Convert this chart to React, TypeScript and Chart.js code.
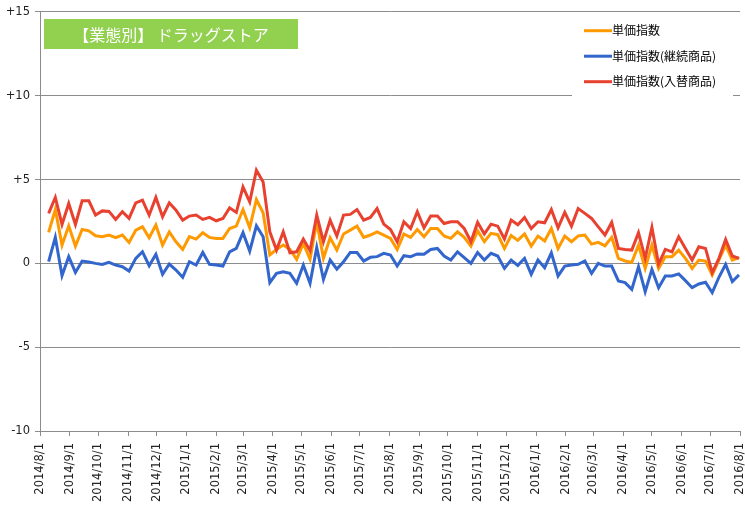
import { useEffect, useRef } from "react";
import { Chart, registerables } from "chart.js";

Chart.register(...registerables);

const titleText = "【業態別】 ドラッグストア";
const seriesNames = ["単価指数", "単価指数(継続商品)", "単価指数(入替商品)"];
const seriesColors = ["#FF9900", "#3366CC", "#E8412F"];

const firstWeek = "2014/8/10";

const monthTicks = [
  "2014/8/1", "2014/9/1", "2014/10/1", "2014/11/1", "2014/12/1",
  "2015/1/1", "2015/2/1", "2015/3/1", "2015/4/1", "2015/5/1", "2015/6/1",
  "2015/7/1", "2015/8/1", "2015/9/1", "2015/10/1", "2015/11/1", "2015/12/1",
  "2016/1/1", "2016/2/1", "2016/3/1", "2016/4/1", "2016/5/1", "2016/6/1",
  "2016/7/1", "2016/8/1",
];

const yTicks = [-10, -5, 0, 5, 10, 15];

const unitPrice = [
  1.85, 3.21, 1.09, 2.24, 1.03, 2.02, 1.94, 1.65, 1.59, 1.69, 1.53, 1.69, 1.25, 1.98, 2.18, 1.53, 2.28,
  1.09, 1.88, 1.29, 0.83, 1.59, 1.45, 1.83, 1.55, 1.49, 1.49, 2.08, 2.22, 3.21, 2.12, 3.81, 3.02, 0.5, 0.83,
  1.09, 0.83, 0.24, 1.19, 0.24, 2.48, 0.3, 1.53, 0.79, 1.75, 1.98, 2.22, 1.55, 1.69, 1.88, 1.69, 1.49, 0.83,
  1.75, 1.55, 2.02, 1.59, 2.08, 2.08, 1.63, 1.49, 1.88, 1.55, 1.03, 1.94, 1.29, 1.79, 1.71, 0.89, 1.66, 1.37,
  1.75, 1.03, 1.63, 1.33, 2.08, 0.89, 1.63, 1.29, 1.63, 1.69, 1.15, 1.25, 1.05, 1.55, 0.3, 0.14, 0.06, 1.09,
  -0.3, 1.09, -0.3, 0.4, 0.4, 0.79, 0.3, -0.3, 0.2, 0.14, -0.69, 0.2, 1.09, 0.2, 0.34,
];

const continuing = [
  0.1, 1.55, -0.73, 0.4, -0.54, 0.14, 0.08, 0, -0.06, 0.06, -0.1, -0.2, -0.46, 0.3, 0.69, -0.14, 0.54,
  -0.65, -0.04, -0.4, -0.83, 0.1, -0.1, 0.65, -0.06, -0.1, -0.16, 0.69, 0.89, 1.83, 0.73, 2.24, 1.59, -1.15, -0.6,
  -0.5, -0.6, -1.19, -0.1, -1.19, 0.95, -0.95, 0.2, -0.34, 0.1, 0.65, 0.65, 0.14, 0.36, 0.4, 0.6, 0.5, -0.16,
  0.46, 0.4, 0.56, 0.54, 0.83, 0.89, 0.44, 0.2, 0.69, 0.34, 0, 0.65, 0.2, 0.6, 0.44, -0.3, 0.2, -0.12,
  0.3, -0.65, 0.2, -0.26, 0.63, -0.75, -0.16, -0.1, -0.06, 0.14, -0.6, 0, -0.16, -0.16, -1.05, -1.15, -1.55, -0.2,
  -1.69, -0.36, -1.45, -0.75, -0.75, -0.63, -1.03, -1.45, -1.23, -1.13, -1.75, -0.83, -0.06, -1.09, -0.69,
];

const replaced = [
  2.98, 3.93, 2.32, 3.57, 2.32, 3.73, 3.73, 2.88, 3.13, 3.1, 2.62, 3.08, 2.68, 3.61, 3.77, 2.88, 3.93,
  2.78, 3.61, 3.17, 2.58, 2.82, 2.88, 2.62, 2.74, 2.54, 2.68, 3.31, 3.04, 4.56, 3.67, 5.56, 4.86, 1.88, 0.79,
  1.88, 0.63, 0.69, 1.45, 0.75, 2.88, 1.29, 2.58, 1.63, 2.88, 2.92, 3.21, 2.58, 2.74, 3.27, 2.34, 2.02, 1.29,
  2.48, 2.08, 3.08, 2.12, 2.82, 2.82, 2.38, 2.48, 2.48, 2.08, 1.29, 2.44, 1.75, 2.34, 2.22, 1.45, 2.58, 2.3,
  2.74, 2.08, 2.48, 2.42, 3.21, 2.12, 3.04, 2.22, 3.27, 2.98, 2.68, 2.18, 1.69, 2.44, 0.89, 0.83, 0.79, 1.83,
  0.3, 2.14, -0.04, 0.83, 0.69, 1.59, 0.89, 0.2, 0.99, 0.89, -0.56, 0.3, 1.43, 0.44, 0.3,
];

const toUTC = (s: string) => {
  const [y, m, d] = s.split("/").map(Number);
  return Date.UTC(y, m - 1, d);
};
const origin = toUTC(monthTicks[0]);
const dayOf = (s: string) => (toUTC(s) - origin) / 86400000;
const firstDay = dayOf(firstWeek);
const toPoints = (vals: number[]) => vals.map((v, i) => ({ x: firstDay + 7 * i, y: v }));

const GRID = "#8C8C8C";
const TICK_FONT = { family: "'DejaVu Sans', sans-serif", size: 11.5 };

const overlayPlugin = {
  id: "overlay",
  afterDraw(chart: any) {
    const ctx = chart.ctx as CanvasRenderingContext2D;
    ctx.save();
    // title box
    ctx.fillStyle = "#92D050";
    ctx.fillRect(44, 19, 254, 30);
    ctx.fillStyle = "#FFFFFF";
    ctx.font = "16px 'Noto Sans CJK JP', sans-serif";
    ctx.textAlign = "center";
    ctx.textBaseline = "middle";
    ctx.fillText(titleText, 171, 34.5);
    // legend
    ctx.fillStyle = "#FFFFFF";
    ctx.fillRect(572, 15, 161, 86);
    chart.data.datasets.forEach((ds: any, i: number) => {
      const y = 30.7 + i * 25.5;
      ctx.strokeStyle = ds.borderColor;
      ctx.lineWidth = 3;
      ctx.beginPath();
      ctx.moveTo(584, y);
      ctx.lineTo(612, y);
      ctx.stroke();
      ctx.fillStyle = "#000000";
      ctx.font = "12px 'Noto Sans CJK JP', sans-serif";
      ctx.textAlign = "left";
      ctx.textBaseline = "middle";
      ctx.fillText(ds.label, 612, y);
    });
    ctx.restore();
  },
};

export default function App() {
  const ref = useRef<HTMLCanvasElement | null>(null);

  useEffect(() => {
    document.body.style.margin = "0";
    if (!ref.current) return;
    const seriesValues = [unitPrice, continuing, replaced];
    const chart = new Chart(ref.current, {
      type: "line",
      data: {
        datasets: seriesValues.map((vals, i) => ({
          label: seriesNames[i],
          data: toPoints(vals),
          borderColor: seriesColors[i],
          backgroundColor: seriesColors[i],
          borderWidth: 3,
          pointRadius: 0,
          tension: 0,
          fill: false,
          order: 2 - i,
        })),
      },
      options: {
        responsive: false,
        animation: false,
        layout: { padding: { top: 11, right: 5, left: 0, bottom: 0 } },
        plugins: {
          legend: { display: false },
          tooltip: { enabled: false },
        },
        scales: {
          x: {
            type: "linear",
            min: dayOf(monthTicks[0]),
            max: dayOf(monthTicks[monthTicks.length - 1]),
            afterBuildTicks: (scale: any) => {
              scale.ticks = monthTicks.map((m) => ({ value: dayOf(m) }));
            },
            afterFit: (scale: any) => {
              scale.height = 79;
              scale.paddingLeft = 0;
              scale.paddingRight = 0;
            },
            grid: {
              display: true,
              drawOnChartArea: false,
              drawTicks: true,
              tickLength: 5,
              color: GRID,
            },
            border: { display: true, color: GRID },
            ticks: {
              autoSkip: false,
              minRotation: 90,
              maxRotation: 90,
              padding: 7,
              color: "#222",
              font: TICK_FONT,
              callback: (_v: any, i: number) => monthTicks[i],
            },
          },
          y: {
            type: "linear",
            min: yTicks[0],
            max: yTicks[yTicks.length - 1],
            afterBuildTicks: (scale: any) => {
              scale.ticks = yTicks.map((v) => ({ value: v }));
            },
            afterFit: (scale: any) => {
              scale.width = 40;
            },
            grid: {
              color: GRID,
              lineWidth: 1,
              tickLength: 5,
            },
            border: { display: true, color: GRID },
            ticks: {
              padding: 5,
              color: "#222",
              font: TICK_FONT,
              callback: (v: any) => (v > 0 ? "+" + v : String(v)),
            },
          },
        },
      },
      plugins: [overlayPlugin],
    });
    return () => chart.destroy();
  }, []);

  return (
    <div style={{ position: "absolute", left: 0, top: 0, width: 745, height: 510 }}>
      <canvas ref={ref} width={745} height={510} />
    </div>
  );
}
